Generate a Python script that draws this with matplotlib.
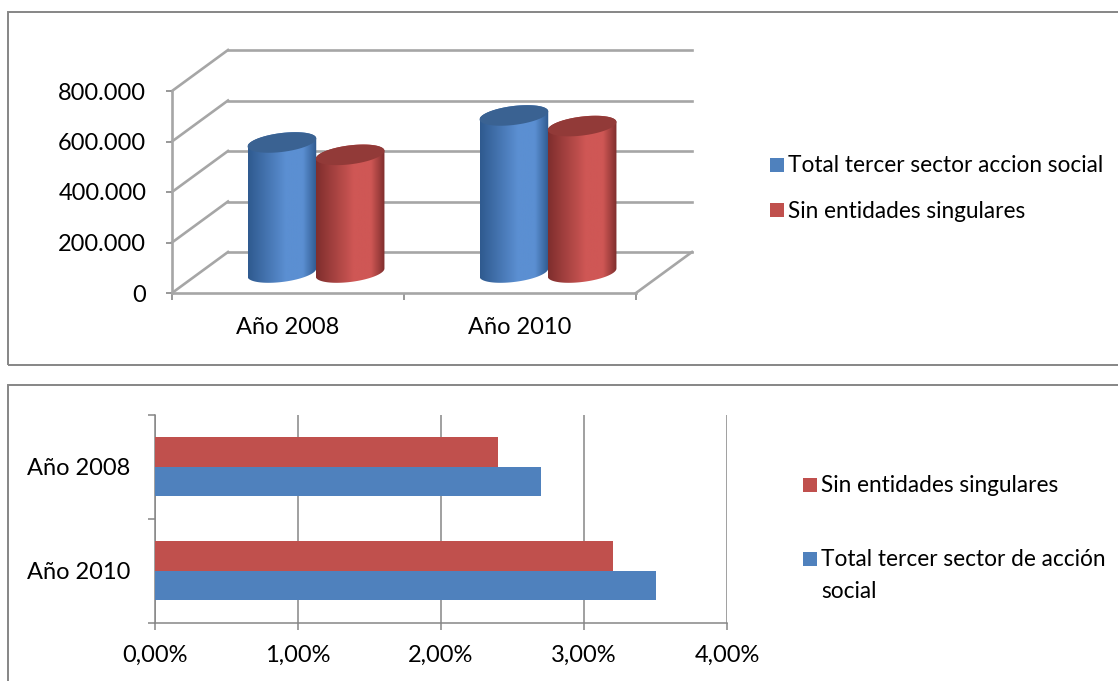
#!/usr/bin/env python
import numpy as np
import matplotlib
matplotlib.use("Agg")
import matplotlib.pyplot as plt
from matplotlib.colors import LinearSegmentedColormap
from matplotlib.patches import PathPatch, Rectangle
from matplotlib.path import Path
from matplotlib.transforms import Affine2D

WIDTH, HEIGHT = 1118, 681

years = ["Año 2008", "Año 2010"]
total_people = [515000, 622000]
singular_people = [466000, 580000]
people_ticks = [0, 200000, 400000, 600000, 800000]
people_labels = ["0", "200.000", "400.000", "600.000", "800.000"]

total_pct = [2.7, 3.5]
singular_pct = [2.4, 3.2]
pct_ticks = [0, 1, 2, 3, 4]
pct_labels = ["0,00%", "1,00%", "2,00%", "3,00%", "4,00%"]

BLUE = "#4f81bd"
RED = "#c0504d"
GRID = "#a6a6a6"
AXIS = "#868686"
TEXT = "#000000"

plt.rcParams["font.family"] = ["Lato", "DejaVu Sans"]
plt.rcParams["font.size"] = 17


def px_axes(fig, left, top, right, bottom):
    return fig.add_axes([left / WIDTH, 1 - bottom / HEIGHT, (right - left) / WIDTH, (bottom - top) / HEIGHT])


def px_rect(fig, left, top, right, bottom, **kwargs):
    rect = Rectangle((left, HEIGHT - bottom), right - left, bottom - top, **kwargs)
    rect.set_transform(Affine2D().scale(1 / WIDTH, 1 / HEIGHT) + fig.transFigure)
    fig.add_artist(rect)


def px_text(fig, x, y, label, **kwargs):
    fig.text(x / WIDTH, 1 - y / HEIGHT, label, va="center", ha="left", color=TEXT, **kwargs)


def draw_cylinder(ax, cx, base, top, half_w, tilt, half_h, dark, mid, top_color):
    def ring(cy, a, b):
        t = np.linspace(a, b, 60)
        return cx + half_w * np.cos(t), cy + tilt * np.cos(t) + half_h * np.sin(t)

    lx, ly = ring(base, np.pi, 2 * np.pi)
    ux, uy = ring(top, 0, np.pi)
    outline = Path(np.column_stack([np.r_[lx, ux, lx[0]], np.r_[ly, uy, ly[0]]]))
    patch = PathPatch(outline, facecolor="none", edgecolor="none", transform=ax.transData)
    ax.add_patch(patch)
    cmap = LinearSegmentedColormap.from_list("shade", [(0, dark), (0.55, mid), (0.8, mid), (1, dark)])
    shade = np.linspace(0, 1, 128)[None, :]
    img = ax.imshow(shade, cmap=cmap, aspect="auto", zorder=3,
                    extent=[cx - half_w, cx + half_w, base - 2 * half_h, top + 2 * half_h])
    img.set_clip_path(patch)

    rx, ry = ring(top, 0, 2 * np.pi)
    ax.fill(rx, ry, color=top_color, zorder=4, clip_on=False, lw=0)


fig = plt.figure(figsize=(WIDTH / 100, HEIGHT / 100), dpi=100, facecolor="white")
px_rect(fig, 8, 12, 1130, 365, fill=False, edgecolor=AXIS, linewidth=1.4)
px_rect(fig, 8, 385, 1130, 700, fill=False, edgecolor=AXIS, linewidth=1.4)

# upper chart: cylinders on a sheared floor and wall
ax = px_axes(fig, 172, 91, 636, 293)
ax.set_xlim(0, 2)
ax.set_ylim(0, 800000)
depth_x = 56 / 232
depth_y = 41 / 202 * 800000

for tick in people_ticks:
    ax.plot([0, depth_x], [tick, tick + depth_y], color=GRID, lw=1.9, clip_on=False, zorder=1)
    ax.plot([depth_x, 2 + depth_x], [tick + depth_y, tick + depth_y], color=GRID, lw=1.9, clip_on=False, zorder=1)
ax.plot([2, 2 + depth_x], [0, depth_y], color=GRID, lw=1.9, clip_on=False, zorder=1)

half_w = 0.148
tilt = 4 / 202 * 800000
half_h = 9.5 / 202 * 800000
for idx in range(len(years)):
    # cylinders stand halfway back on the floor
    draw_cylinder(ax, idx + 0.353 + depth_x / 2, depth_y / 2, total_people[idx] + depth_y / 2,
                  half_w, tilt, half_h, "#2f5a8f", "#5b8fd2", "#3a6292")
    draw_cylinder(ax, idx + 0.647 + depth_x / 2, depth_y / 2, singular_people[idx] + depth_y / 2,
                  half_w, tilt, half_h, "#7f2e2d", "#cf5755", "#923a38")
ax.set_xlim(0, 2)
ax.set_ylim(0, 800000)
ax.patch.set_visible(False)
for name in ("top", "right"):
    ax.spines[name].set_visible(False)
for name in ("left", "bottom"):
    ax.spines[name].set_color(GRID)
    ax.spines[name].set_linewidth(1.9)
ax.set_yticks(people_ticks)
ax.set_yticklabels(people_labels, color=TEXT)
ax.set_xticks([0, 1, 2])
ax.set_xticklabels([])
ax.set_xticks([0.5, 1.5], minor=True)
ax.set_xticklabels(years, minor=True, color=TEXT, fontsize=17)
ax.tick_params(axis="y", length=4, width=1.2, color=AXIS, pad=14.5)
ax.tick_params(axis="x", which="major", length=5, width=1.2, color=AXIS)
ax.tick_params(axis="x", which="minor", length=0, pad=17)

# lower chart: plain horizontal bars
ax2 = px_axes(fig, 155, 414.5, 727, 622.5)
positions = np.arange(len(years))
bar_h = 0.285
ax2.barh(positions + bar_h / 2, total_pct, height=bar_h, color=BLUE, zorder=3)
ax2.barh(positions - bar_h / 2, singular_pct, height=bar_h, color=RED, zorder=3)
ax2.set_xlim(0, 4)
ax2.set_ylim(1.5, -0.5)
ax2.set_xticks(pct_ticks)
ax2.set_xticklabels(pct_labels, color=TEXT, fontsize=17)
ax2.set_yticks([-0.5, 0.5, 1.5])
ax2.set_yticklabels([])
ax2.set_yticks(positions, minor=True)
ax2.set_yticklabels(years, minor=True, color=TEXT, fontsize=17)
ax2.grid(axis="x", color=AXIS, lw=1.1, zorder=1)
for name in ("top", "right"):
    ax2.spines[name].set_visible(False)
for name in ("left", "bottom"):
    ax2.spines[name].set_color(AXIS)
    ax2.spines[name].set_linewidth(1.1)
ax2.tick_params(axis="y", which="major", length=5, width=1.1, color=AXIS)
ax2.tick_params(axis="y", which="minor", length=0, pad=18)
ax2.tick_params(axis="x", length=5, width=1.1, color=AXIS, pad=11)

# legends
px_rect(fig, 770, 158, 784, 172, facecolor=BLUE, edgecolor="none")
px_text(fig, 788, 166, "Total tercer sector accion social", fontsize=16.3)
px_rect(fig, 770, 203, 784, 217, facecolor=RED, edgecolor="none")
px_text(fig, 788, 211, "Sin entidades singulares", fontsize=16.3)

px_rect(fig, 803, 478, 817, 492, facecolor=RED, edgecolor="none")
px_text(fig, 821, 485, "Sin entidades singulares", fontsize=16.3)
px_rect(fig, 803, 552, 817, 566, facecolor=BLUE, edgecolor="none")
px_text(fig, 821, 559, "Total tercer sector de acción", fontsize=16.3)
px_text(fig, 821, 591, "social", fontsize=16.3)

fig.savefig("out.png", dpi=100)
